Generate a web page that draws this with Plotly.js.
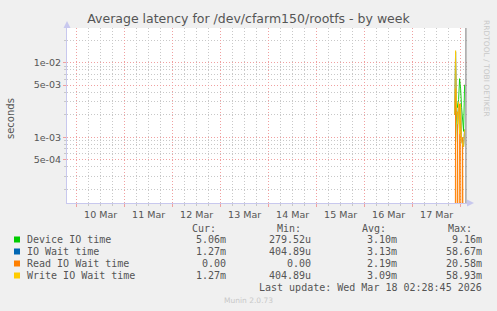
<!DOCTYPE html>
<html>
<head>
<meta charset="utf-8">
<script src="https://cdn.plot.ly/plotly-3.0.1.min.js"></script>
<style>
  html, body { margin: 0; padding: 0; background: #f0f0f0; }
  #chart { width: 497px; height: 311px; }
</style>
</head>
<body>
<div id="chart"></div>
<script>
// Sample times (30 minute consolidation steps)
const times = [
  '2026-03-17 21:00', '2026-03-17 21:30', '2026-03-17 22:00', '2026-03-17 22:30',
  '2026-03-17 23:00', '2026-03-17 23:30', '2026-03-18 00:00', '2026-03-18 00:30',
  '2026-03-18 01:00', '2026-03-18 01:30', '2026-03-18 02:00'
];

// Latency series, seconds
const deviceIO  = [null, 8.6e-4, 3.0e-3, 2.5e-3, 3.2e-3, 6.1e-3, 4.5e-3, 2.5e-3, 1.8e-3, 1.2e-3, 5.06e-3];
const ioWait    = [2.0e-3, 1.4e-2, 2.2e-3, 1.5e-3, 3.0e-3, 1.1e-3, 2.8e-3, 9.0e-4, 8.0e-4, 7.5e-4, 1.27e-3];
const readWait  = [0, 4.5e-3, 0, 2.2e-3, 0, 2.8e-3, 1.5e-3, 0, 1.0e-3, 0, 0];
const writeWait = [2.0e-3, 1.45e-2, 2.2e-3, 1.5e-3, 3.0e-3, 1.1e-3, 2.8e-3, 9.0e-4, 8.0e-4, 7.5e-4, 1.27e-3];

// Legend table
const seriesNames = ['Device IO time', 'IO Wait time', 'Read IO Wait time', 'Write IO Wait time'];
const seriesColors = ['#00cc00', '#0066b3', '#ff8000', '#ffcc00'];
const curText = ['5.06m', '1.27m', '0.00', '1.27m'];
const minText = ['279.52u', '404.89u', '0.00', '404.89u'];
const avgText = ['3.10m', '3.13m', '2.19m', '3.09m'];
const maxText = ['9.16m', '58.67m', '20.58m', '58.93m'];

// Y axis labels
const yTickVals = [5e-4, 1e-3, 5e-3, 1e-2];
const yTickText = ['5e-04', '1e-03', '5e-03', '1e-02'];
const yMinorVals = [2e-4, 3e-4, 4e-4, 6e-4, 7e-4, 8e-4, 9e-4,
                    2e-3, 3e-3, 4e-3, 6e-3, 7e-3, 8e-3, 9e-3, 2e-2, 3e-2];

const xStart = '2026-03-09 19:12';
const xEnd = '2026-03-18 03:12';
const nowMark = '2026-03-18 02:40';

// Zero readings sit far below the log range so their lines run off the bottom
const floorZero = arr => arr.map(v => (v === 0 ? 1e-9 : v));

const seriesData = [deviceIO, ioWait, readWait, writeWait];
const traces = seriesData.map((vals, i) => ({
  x: times,
  y: floorZero(vals),
  type: 'scatter',
  mode: 'lines',
  name: seriesNames[i],
  line: { color: seriesColors[i], width: 1 },
  opacity: 0.9,
  connectgaps: false,
  hoverinfo: 'skip'
}));

// Plot-area pixel helpers (plot spans x 67..467, y 28..203)
const L = 67, T = 28, W = 400, H = 175;
const px = x => (x - L) / W;
const py = y => (T + H - y) / H;

const textColor = '#555555';
const mono = 'DejaVu Sans Mono, monospace';
const sans = 'DejaVu Sans, sans-serif';

const annotations = [];
function addText(text, x, y, anchor, opts = {}) {
  annotations.push(Object.assign({
    text: text, xref: 'paper', yref: 'paper', x: px(x), y: py(y),
    xanchor: anchor, yanchor: 'middle', showarrow: false,
    font: { family: mono, size: 10, color: textColor }, borderpad: 0
  }, opts));
}

// Table headers
addText('Cur:', 190.5, 228, 'left');
addText('Min:', 276, 228, 'left');
addText('Avg:', 361, 228, 'left');
addText('Max:', 447, 228, 'left');

const rowY = [239.5, 251.5, 263.5, 275.5];
const shapes = [];
seriesNames.forEach((name, i) => {
  addText(name, 25.5, rowY[i], 'left');
  addText(curText[i], 226.5, rowY[i], 'right');
  addText(minText[i], 312, rowY[i], 'right');
  addText(avgText[i], 397.5, rowY[i], 'right');
  addText(maxText[i], 483, rowY[i], 'right');
  shapes.push({
    type: 'rect', xref: 'paper', yref: 'paper',
    x0: px(14), x1: px(20), y0: py(rowY[i] + 3), y1: py(rowY[i] - 3),
    fillcolor: seriesColors[i], line: { width: 0 }
  });
});

addText('Last update: Wed Mar 18 02:28:45 2026', 483, 287.5, 'right');
addText('Munin 2.0.73', 248, 300, 'center', { font: { family: sans, size: 7.5, color: '#c8c8c8' } });
addText('RRDTOOL / TOBI OETIKER', 487, 68, 'center',
  { textangle: 90, font: { family: sans, size: 7.5, color: '#c8c8c8' } });
addText('seconds', 10, 119, 'center',
  { textangle: -90, font: { family: sans, size: 10, color: textColor } });

// Axis arrows
const axisBlue = '#c8c8ee';
shapes.push({
  type: 'path', xref: 'paper', yref: 'paper',
  path: `M ${px(63.5)},${py(28)} L ${px(67)},${py(21)} L ${px(70.5)},${py(28)} Z`,
  fillcolor: axisBlue, line: { width: 0 }
});
shapes.push({
  type: 'path', xref: 'paper', yref: 'paper',
  path: `M ${px(467)},${py(199.5)} L ${px(474)},${py(203)} L ${px(467)},${py(206.5)} Z`,
  fillcolor: axisBlue, line: { width: 0 }
});
// Current time marker
shapes.push({
  type: 'line', xref: 'x', yref: 'paper',
  x0: nowMark, x1: nowMark, y0: 0, y1: 1,
  line: { color: '#8a8a8a', width: 1.2 }
});

const majorGrid = '#f0a0a0';
const minorGrid = '#c8c8c8';
const dotted = '1px,2px';

const layout = {
  width: 497,
  height: 311,
  paper_bgcolor: '#f0f0f0',
  plot_bgcolor: '#ffffff',
  margin: { l: L, r: 497 - L - W, t: T, b: 311 - T - H, pad: 0 },
  showlegend: false,
  title: {
    text: 'Average latency for /dev/cfarm150/rootfs - by week',
    font: { family: sans, size: 12.5, color: textColor },
    xref: 'container', x: 0.5, xanchor: 'center',
    yref: 'container', y: 1 - 19 / 311, yanchor: 'middle'
  },
  xaxis: {
    type: 'date',
    range: [xStart, xEnd],
    tick0: '2026-03-10',
    dtick: 86400000,
    tickformat: '%d %b',
    ticklabelmode: 'period',
    showgrid: true,
    gridcolor: majorGrid,
    griddash: dotted,
    gridwidth: 1,
    ticks: 'outside',
    ticklen: 3,
    tickcolor: majorGrid,
    showline: true,
    linecolor: axisBlue,
    linewidth: 1,
    zeroline: false,
    tickfont: { family: sans, size: 9.5, color: textColor },
    minor: {
      dtick: 6 * 3600000,
      showgrid: true,
      gridcolor: minorGrid,
      griddash: dotted,
      gridwidth: 1,
      ticks: 'outside',
      ticklen: 2,
      tickcolor: minorGrid
    }
  },
  yaxis: {
    type: 'log',
    range: [-3.881, -1.535],
    tickmode: 'array',
    tickvals: yTickVals,
    ticktext: yTickText,
    showgrid: true,
    gridcolor: majorGrid,
    griddash: dotted,
    gridwidth: 1,
    ticks: 'outside',
    ticklen: 3,
    tickcolor: majorGrid,
    showline: true,
    linecolor: axisBlue,
    linewidth: 1,
    zeroline: false,
    tickfont: { family: sans, size: 9.5, color: textColor },
    minor: {
      tickmode: 'array',
      tickvals: yMinorVals,
      showgrid: true,
      gridcolor: minorGrid,
      griddash: dotted,
      gridwidth: 1,
      ticks: 'outside',
      ticklen: 2,
      tickcolor: minorGrid
    }
  },
  annotations: annotations,
  shapes: shapes
};

Plotly.newPlot('chart', traces, layout, { displayModeBar: false, staticPlot: true });
</script>
</body>
</html>
